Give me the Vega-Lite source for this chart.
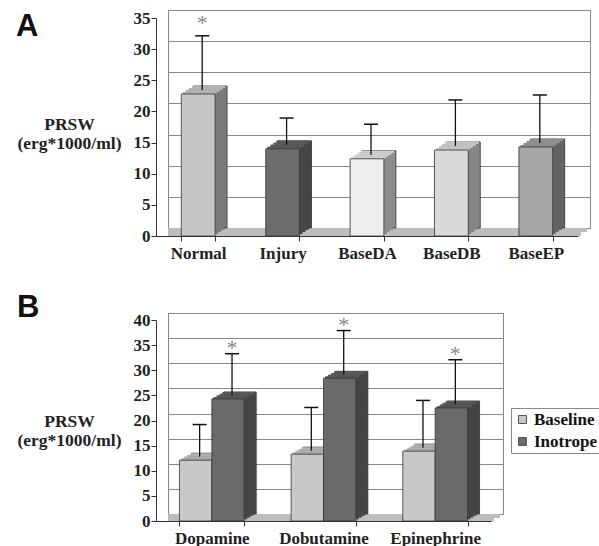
{
  "$schema": "https://vega.github.io/schema/vega-lite/v6.json",
  "padding": {"left": 8, "top": 0, "right": 0, "bottom": 0},
  "spacing": 17,
  "config": {
    "view": {"stroke": "#888", "strokeWidth": 1},
    "title": {"font": "Liberation Sans", "fontSize": 31, "fontWeight": "bold", "color": "#111", "anchor": "start", "frame": "bounds", "baseline": "top"}
  },
  "vconcat": [
    {
      "width": 422,
      "height": 218,
      "title": {"text": "A", "dx": 7, "dy": 11, "offset": -31},
      "data": {"values": [
        {"cat": "Normal", "value": 22.8, "err": 31.5, "sig": "*"},
        {"cat": "Injury", "value": 14.0, "err": 18.3, "sig": ""},
        {"cat": "BaseDA", "value": 12.4, "err": 17.3, "sig": ""},
        {"cat": "BaseDB", "value": 13.8, "err": 21.2, "sig": ""},
        {"cat": "BaseEP", "value": 14.3, "err": 22.0, "sig": ""}
      ]},
      "resolve": {"axis": {"y": "independent"}, "scale": {"color": "independent"}},
      "layer": [
        {"mark": {"type": "rule", "xOffset": -3, "x2Offset": -3, "yOffset": 2, "strokeWidth": 4, "color": "#bdbdbd"},
         "encoding": {"y": {"datum": 0, "type": "quantitative", "axis": null}}},
        {"mark": {"type": "rule", "xOffset": -9, "x2Offset": -9, "yOffset": 6, "strokeWidth": 4, "color": "#bdbdbd"},
         "encoding": {"y": {"datum": 0, "type": "quantitative", "axis": null}}},
        {"mark": {"type": "bar", "xOffset": 0, "x2Offset": 0, "yOffset": 0, "y2Offset": 0, "stroke": "#333", "strokeWidth": 0.8},
         "encoding": {
           "x": {"field": "cat", "type": "nominal", "sort": null, "scale": {"paddingInner": 0.6, "paddingOuter": 0.3}},
           "y": {"field": "value", "type": "quantitative", "scale": {"domain": [0, 35], "nice": false},
                 "axis": {"orient": "left", "grid": true, "gridColor": "#888", "gridWidth": 1.2, "domain": false, "ticks": false, "labels": false, "title": null, "values": [0, 5, 10, 15, 20, 25, 30, 35]}},
           "color": {"field": "cat", "type": "nominal", "legend": null, "scale": {"domain": ["Normal", "Injury", "BaseDA", "BaseDB", "BaseEP"], "range": ["#7a7a7a", "#454545", "#8c8c8c", "#868686", "#646464"]}}
         }},
        {"mark": {"type": "bar", "xOffset": -3, "x2Offset": -3, "yOffset": 2, "y2Offset": 2},
         "encoding": {
           "x": {"field": "cat", "type": "nominal", "sort": null},
           "y": {"field": "value", "type": "quantitative", "axis": null},
           "color": {"field": "cat", "type": "nominal", "legend": null, "scale": {"domain": ["Normal", "Injury", "BaseDA", "BaseDB", "BaseEP"], "range": ["#7a7a7a", "#454545", "#8c8c8c", "#868686", "#646464"]}}
         }},
        {"mark": {"type": "bar", "xOffset": -6, "x2Offset": -6, "yOffset": 4, "y2Offset": 4},
         "encoding": {
           "x": {"field": "cat", "type": "nominal", "sort": null},
           "y": {"field": "value", "type": "quantitative", "axis": null},
           "color": {"field": "cat", "type": "nominal", "legend": null, "scale": {"domain": ["Normal", "Injury", "BaseDA", "BaseDB", "BaseEP"], "range": ["#7a7a7a", "#454545", "#8c8c8c", "#868686", "#646464"]}}
         }},
        {"mark": {"type": "bar", "xOffset": -9, "x2Offset": -9, "yOffset": 6, "y2Offset": 6},
         "encoding": {
           "x": {"field": "cat", "type": "nominal", "sort": null},
           "y": {"field": "value", "type": "quantitative", "axis": null},
           "color": {"field": "cat", "type": "nominal", "legend": null, "scale": {"domain": ["Normal", "Injury", "BaseDA", "BaseDB", "BaseEP"], "range": ["#7a7a7a", "#454545", "#8c8c8c", "#868686", "#646464"]}}
         }},
        {"mark": {"type": "tick", "orient": "horizontal", "xOffset": -1.5, "yOffset": 1, "size": 33.8, "thickness": 2, "opacity": 1},
         "encoding": {
           "x": {"field": "cat", "type": "nominal", "sort": null},
           "y": {"field": "value", "type": "quantitative", "axis": null},
           "color": {"field": "cat", "type": "nominal", "legend": null, "scale": {"domain": ["Normal", "Injury", "BaseDA", "BaseDB", "BaseEP"], "range": ["#b2b2b2", "#5a5a5a", "#d2d2d2", "#c2c2c2", "#8e8e8e"]}}
         }},
        {"mark": {"type": "tick", "orient": "horizontal", "xOffset": -4.5, "yOffset": 3, "size": 33.8, "thickness": 2, "opacity": 1},
         "encoding": {
           "x": {"field": "cat", "type": "nominal", "sort": null},
           "y": {"field": "value", "type": "quantitative", "axis": null},
           "color": {"field": "cat", "type": "nominal", "legend": null, "scale": {"domain": ["Normal", "Injury", "BaseDA", "BaseDB", "BaseEP"], "range": ["#b2b2b2", "#5a5a5a", "#d2d2d2", "#c2c2c2", "#8e8e8e"]}}
         }},
        {"mark": {"type": "tick", "orient": "horizontal", "xOffset": -7.5, "yOffset": 5, "size": 33.8, "thickness": 2, "opacity": 1},
         "encoding": {
           "x": {"field": "cat", "type": "nominal", "sort": null},
           "y": {"field": "value", "type": "quantitative", "axis": null},
           "color": {"field": "cat", "type": "nominal", "legend": null, "scale": {"domain": ["Normal", "Injury", "BaseDA", "BaseDB", "BaseEP"], "range": ["#b2b2b2", "#5a5a5a", "#d2d2d2", "#c2c2c2", "#8e8e8e"]}}
         }},
        {"mark": {"type": "tick", "orient": "horizontal", "xOffset": -10.5, "yOffset": 7, "size": 33.8, "thickness": 2, "opacity": 1},
         "encoding": {
           "x": {"field": "cat", "type": "nominal", "sort": null},
           "y": {"field": "value", "type": "quantitative", "axis": null},
           "color": {"field": "cat", "type": "nominal", "legend": null, "scale": {"domain": ["Normal", "Injury", "BaseDA", "BaseDB", "BaseEP"], "range": ["#b2b2b2", "#5a5a5a", "#d2d2d2", "#c2c2c2", "#8e8e8e"]}}
         }},
        {"mark": {"type": "bar", "xOffset": -12, "x2Offset": -12, "yOffset": 8, "y2Offset": 8, "stroke": "#333", "strokeWidth": 0.8},
         "encoding": {
           "x": {"field": "cat", "type": "nominal", "sort": null,
                 "axis": {"orient": "bottom", "translate": -11.5, "offset": 20, "domain": true, "domainColor": "#333", "ticks": true, "tickBand": "extent", "tickSize": 5, "tickColor": "#333", "labelAngle": 0, "labelAlign": "center", "labelFont": "Liberation Serif", "labelFontWeight": "bold", "labelFontSize": 17, "labelColor": "#222", "labelPadding": 12, "title": null, "grid": false, "zindex": 1}},
           "y": {"field": "value", "type": "quantitative",
                 "axis": {"orient": "left", "offset": 20, "translate": 8.5, "grid": false, "domain": true, "domainColor": "#333", "ticks": true, "tickSize": 5, "tickColor": "#333", "values": [0, 5, 10, 15, 20, 25, 30, 35], "labelFont": "Liberation Serif", "labelFontWeight": "bold", "labelFontSize": 17, "labelColor": "#222", "labelPadding": 1, "title": ["PRSW", "(erg*1000/ml)"], "titleAngle": 0, "titleFont": "Liberation Serif", "titleFontWeight": "bold", "titleFontSize": 17.5, "titleColor": "#222", "titleAlign": "center", "titleBaseline": "middle", "titleX": -87, "titleY": 106, "titleLineHeight": 19, "zindex": 1}},
           "color": {"field": "cat", "type": "nominal", "legend": null, "scale": {"domain": ["Normal", "Injury", "BaseDA", "BaseDB", "BaseEP"], "range": ["#c6c6c6", "#6c6c6c", "#eeeeee", "#dadada", "#a6a6a6"]}}
         }},
        {"mark": {"type": "rule", "xOffset": -8, "x2Offset": -8, "yOffset": 4, "y2Offset": 4, "color": "#111", "strokeWidth": 1.3},
         "encoding": {
           "x": {"field": "cat", "type": "nominal", "sort": null},
           "y": {"field": "value", "type": "quantitative", "axis": null},
           "y2": {"field": "err"}
         }},
        {"mark": {"type": "tick", "orient": "horizontal", "xOffset": -8, "yOffset": 4, "size": 14, "thickness": 1.5, "color": "#111", "opacity": 1},
         "encoding": {
           "x": {"field": "cat", "type": "nominal", "sort": null},
           "y": {"field": "err", "type": "quantitative", "axis": null}
         }},
        {"mark": {"type": "text", "dx": -8, "dy": -2, "font": "Liberation Serif", "fontSize": 22, "color": "#888", "baseline": "alphabetic"},
         "encoding": {
           "x": {"field": "cat", "type": "nominal", "sort": null},
           "y": {"field": "err", "type": "quantitative", "axis": null},
           "text": {"field": "sig"}
         }}
      ]
    },
    {
      "width": 335,
      "height": 201,
      "title": {"text": "B", "dx": 7, "dy": -13, "offset": -33},
      "data": {"values": [
        {"drug": "Dopamine", "series": "Baseline", "value": 12.1, "err": 18.5, "sig": ""},
        {"drug": "Dopamine", "series": "Inotrope", "value": 24.3, "err": 32.6, "sig": "*"},
        {"drug": "Dobutamine", "series": "Baseline", "value": 13.3, "err": 21.9, "sig": ""},
        {"drug": "Dobutamine", "series": "Inotrope", "value": 28.4, "err": 37.2, "sig": "*"},
        {"drug": "Epinephrine", "series": "Baseline", "value": 13.9, "err": 23.3, "sig": ""},
        {"drug": "Epinephrine", "series": "Inotrope", "value": 22.5, "err": 31.4, "sig": "*"}
      ]},
      "resolve": {"axis": {"y": "independent"}, "scale": {"color": "independent", "xOffset": "independent"}},
      "layer": [
        {"mark": {"type": "rule", "xOffset": -3, "x2Offset": -3, "yOffset": 1.75, "strokeWidth": 3.5, "color": "#bdbdbd"},
         "encoding": {"y": {"datum": 0, "type": "quantitative", "axis": null}}},
        {"mark": {"type": "rule", "xOffset": -9, "x2Offset": -9, "yOffset": 5.25, "strokeWidth": 3.5, "color": "#bdbdbd"},
         "encoding": {"y": {"datum": 0, "type": "quantitative", "axis": null}}},
        {"mark": {"type": "bar", "yOffset": 0, "y2Offset": 0, "stroke": "#333", "strokeWidth": 0.8},
         "encoding": {
           "x": {"field": "drug", "type": "nominal", "sort": null, "scale": {"paddingInner": 0.42, "paddingOuter": 0.21}},
           "xOffset": {"field": "series", "type": "nominal", "sort": null, "scale": {"range": [0, 64.77]}},
           "y": {"field": "value", "type": "quantitative", "scale": {"domain": [0, 40], "nice": false},
                 "axis": {"orient": "left", "grid": true, "gridColor": "#888", "gridWidth": 1.2, "domain": false, "ticks": false, "labels": false, "title": null, "values": [0, 5, 10, 15, 20, 25, 30, 35, 40]}},
           "color": {"field": "series", "type": "nominal", "legend": null, "scale": {"domain": ["Baseline", "Inotrope"], "range": ["#7c7c7c", "#444444"]}}
         }},
        {"mark": {"type": "bar", "yOffset": 1.75, "y2Offset": 1.75},
         "encoding": {
           "x": {"field": "drug", "type": "nominal", "sort": null},
           "xOffset": {"field": "series", "type": "nominal", "sort": null, "scale": {"range": [-3, 61.77]}},
           "y": {"field": "value", "type": "quantitative", "axis": null},
           "color": {"field": "series", "type": "nominal", "legend": null, "scale": {"domain": ["Baseline", "Inotrope"], "range": ["#7c7c7c", "#444444"]}}
         }},
        {"mark": {"type": "bar", "yOffset": 3.5, "y2Offset": 3.5},
         "encoding": {
           "x": {"field": "drug", "type": "nominal", "sort": null},
           "xOffset": {"field": "series", "type": "nominal", "sort": null, "scale": {"range": [-6, 58.77]}},
           "y": {"field": "value", "type": "quantitative", "axis": null},
           "color": {"field": "series", "type": "nominal", "legend": null, "scale": {"domain": ["Baseline", "Inotrope"], "range": ["#7c7c7c", "#444444"]}}
         }},
        {"mark": {"type": "bar", "yOffset": 5.25, "y2Offset": 5.25},
         "encoding": {
           "x": {"field": "drug", "type": "nominal", "sort": null},
           "xOffset": {"field": "series", "type": "nominal", "sort": null, "scale": {"range": [-9, 55.77]}},
           "y": {"field": "value", "type": "quantitative", "axis": null},
           "color": {"field": "series", "type": "nominal", "legend": null, "scale": {"domain": ["Baseline", "Inotrope"], "range": ["#7c7c7c", "#444444"]}}
         }},
        {"mark": {"type": "tick", "orient": "horizontal", "yOffset": 0.875, "size": 32.4, "thickness": 1.75, "opacity": 1},
         "encoding": {
           "x": {"field": "drug", "type": "nominal", "sort": null},
           "xOffset": {"field": "series", "type": "nominal", "sort": null, "scale": {"range": [-1.5, 63.27]}},
           "y": {"field": "value", "type": "quantitative", "axis": null},
           "color": {"field": "series", "type": "nominal", "legend": null, "scale": {"domain": ["Baseline", "Inotrope"], "range": ["#b0b0b0", "#585858"]}}
         }},
        {"mark": {"type": "tick", "orient": "horizontal", "yOffset": 2.625, "size": 32.4, "thickness": 1.75, "opacity": 1},
         "encoding": {
           "x": {"field": "drug", "type": "nominal", "sort": null},
           "xOffset": {"field": "series", "type": "nominal", "sort": null, "scale": {"range": [-4.5, 60.27]}},
           "y": {"field": "value", "type": "quantitative", "axis": null},
           "color": {"field": "series", "type": "nominal", "legend": null, "scale": {"domain": ["Baseline", "Inotrope"], "range": ["#b0b0b0", "#585858"]}}
         }},
        {"mark": {"type": "tick", "orient": "horizontal", "yOffset": 4.375, "size": 32.4, "thickness": 1.75, "opacity": 1},
         "encoding": {
           "x": {"field": "drug", "type": "nominal", "sort": null},
           "xOffset": {"field": "series", "type": "nominal", "sort": null, "scale": {"range": [-7.5, 57.27]}},
           "y": {"field": "value", "type": "quantitative", "axis": null},
           "color": {"field": "series", "type": "nominal", "legend": null, "scale": {"domain": ["Baseline", "Inotrope"], "range": ["#b0b0b0", "#585858"]}}
         }},
        {"mark": {"type": "tick", "orient": "horizontal", "yOffset": 6.125, "size": 32.4, "thickness": 1.75, "opacity": 1},
         "encoding": {
           "x": {"field": "drug", "type": "nominal", "sort": null},
           "xOffset": {"field": "series", "type": "nominal", "sort": null, "scale": {"range": [-10.5, 54.27]}},
           "y": {"field": "value", "type": "quantitative", "axis": null},
           "color": {"field": "series", "type": "nominal", "legend": null, "scale": {"domain": ["Baseline", "Inotrope"], "range": ["#b0b0b0", "#585858"]}}
         }},
        {"mark": {"type": "bar", "yOffset": 7, "y2Offset": 7, "stroke": "#333", "strokeWidth": 0.8},
         "encoding": {
           "x": {"field": "drug", "type": "nominal", "sort": null,
                 "axis": {"orient": "bottom", "translate": -11.5, "offset": 19, "domain": true, "domainColor": "#333", "ticks": true, "tickBand": "extent", "tickSize": 5, "tickColor": "#333", "labelAngle": 0, "labelAlign": "center", "labelFont": "Liberation Serif", "labelFontWeight": "bold", "labelFontSize": 17, "labelColor": "#222", "labelPadding": 12, "title": null, "grid": false, "zindex": 1}},
           "xOffset": {"field": "series", "type": "nominal", "sort": null, "scale": {"range": [-12, 52.77]}},
           "y": {"field": "value", "type": "quantitative",
                 "axis": {"orient": "left", "offset": 19, "translate": 7.5, "grid": false, "domain": true, "domainColor": "#333", "ticks": true, "tickSize": 5, "tickColor": "#333", "values": [0, 5, 10, 15, 20, 25, 30, 35, 40], "labelFont": "Liberation Serif", "labelFontWeight": "bold", "labelFontSize": 17, "labelColor": "#222", "labelPadding": 1, "title": ["PRSW", "(erg*1000/ml)"], "titleAngle": 0, "titleFont": "Liberation Serif", "titleFontWeight": "bold", "titleFontSize": 17.5, "titleColor": "#222", "titleAlign": "center", "titleBaseline": "middle", "titleX": -87, "titleY": 101, "titleLineHeight": 19, "zindex": 1}},
           "color": {"field": "series", "type": "nominal", "scale": {"domain": ["Baseline", "Inotrope"], "range": ["#c8c8c8", "#6a6a6a"]},
                     "legend": {"title": null, "orient": "none", "legendX": 343, "legendY": 95, "symbolType": "square", "symbolSize": 64, "symbolStrokeColor": "#555", "symbolStrokeWidth": 1, "labelFont": "Liberation Serif", "labelFontWeight": "bold", "labelFontSize": 17, "labelColor": "#111", "strokeColor": "#888", "fillColor": "#fff", "padding": 3, "rowPadding": 4, "labelOffset": 3}}
         }},
        {"mark": {"type": "rule", "yOffset": 3.5, "y2Offset": 3.5, "color": "#111", "strokeWidth": 1.3},
         "encoding": {
           "x": {"field": "drug", "type": "nominal", "sort": null},
           "xOffset": {"field": "series", "type": "nominal", "sort": null, "scale": {"range": [-8, 56.77]}},
           "y": {"field": "value", "type": "quantitative", "axis": null},
           "y2": {"field": "err"}
         }},
        {"mark": {"type": "tick", "orient": "horizontal", "yOffset": 3.5, "size": 14, "thickness": 1.5, "color": "#111", "opacity": 1},
         "encoding": {
           "x": {"field": "drug", "type": "nominal", "sort": null},
           "xOffset": {"field": "series", "type": "nominal", "sort": null, "scale": {"range": [-8, 56.77]}},
           "y": {"field": "err", "type": "quantitative", "axis": null}
         }},
        {"mark": {"type": "text", "dy": 5, "font": "Liberation Serif", "fontSize": 22, "color": "#888", "baseline": "alphabetic"},
         "encoding": {
           "x": {"field": "drug", "type": "nominal", "sort": null},
           "xOffset": {"field": "series", "type": "nominal", "sort": null, "scale": {"range": [-8, 56.77]}},
           "y": {"field": "err", "type": "quantitative", "axis": null},
           "text": {"field": "sig"}
         }}
      ]
    }
  ]
}
